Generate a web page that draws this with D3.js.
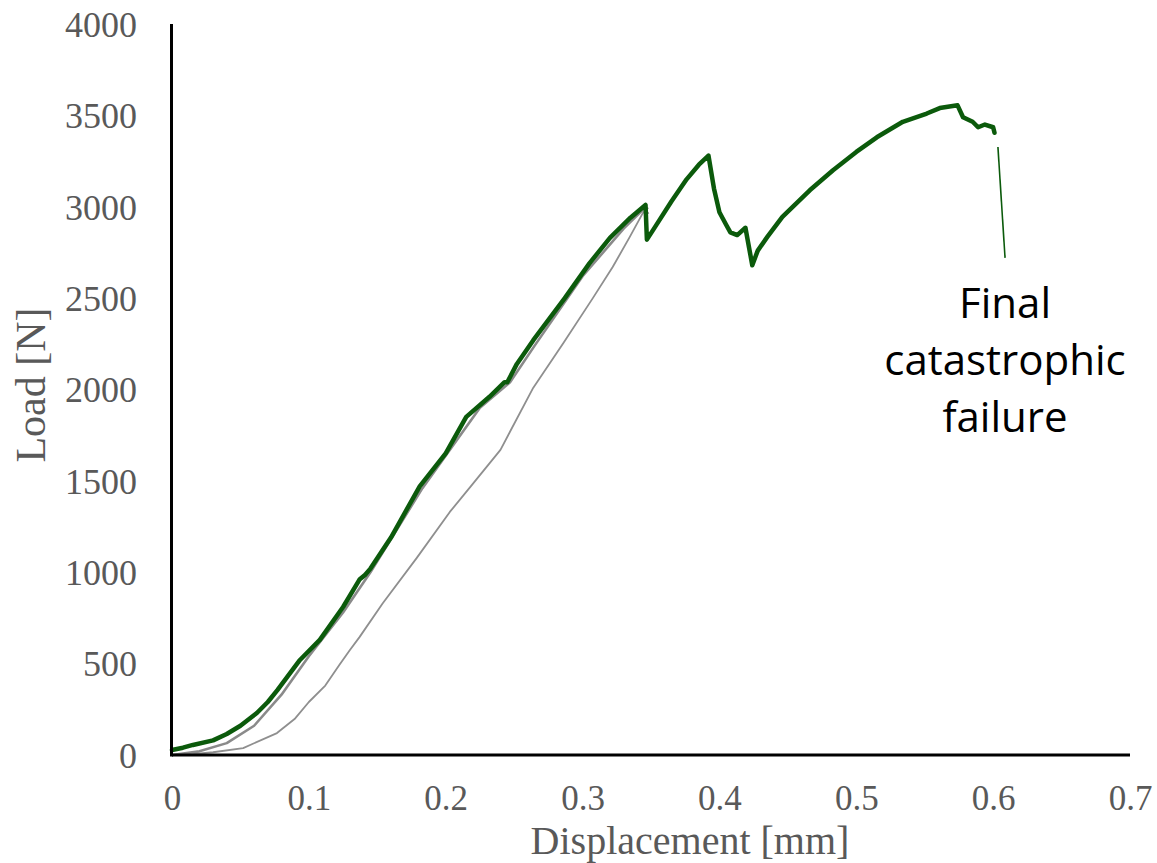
<!DOCTYPE html>
<html>
<head>
<meta charset="utf-8">
<script src="https://cdn.jsdelivr.net/npm/d3@7"></script>
<style>
  html, body { margin: 0; padding: 0; background: #fff; }
  svg { display: block; }
</style>
</head>
<body>
<svg id="chart" width="1157" height="863"></svg>
<script>
// Load–displacement curves: displacement [mm], load [N]
const mainDisp = [0,0.008,0.0153,0.03,0.04,0.05,0.062,0.07,0.077,0.0935,0.108,0.125,0.137,0.141,0.145,0.16,0.181,0.2,0.215,0.232,0.243,0.245,0.252,0.264,0.287,0.305,0.32,0.335,0.346,0.347,0.353,0.365,0.376,0.385,0.392,0.396,0.400,0.405,0.408,0.413,0.419,0.424,0.428,0.435,0.446,0.466,0.483,0.500,0.515,0.534,0.5515,0.561,0.574,0.578,0.585,0.589,0.594,0.600,0.601];
const mainLoad = [27,40,55,80,115,160,230,290,355,520,630,810,960,985,1020,1190,1470,1650,1850,1960,2040,2040,2140,2270,2500,2690,2830,2940,3010,2820,2890,3030,3150,3230,3280,3100,2970,2900,2860,2845,2885,2680,2760,2835,2945,3090,3200,3300,3380,3465,3510,3540,3555,3490,3465,3435,3450,3435,3405];

const nearDisp = [0,0.02,0.04,0.06,0.08,0.1,0.125,0.145,0.183,0.225,0.247,0.265,0.3,0.33,0.345,0.348];
const nearLoad = [0,20,65,160,330,540,780,1000,1460,1900,2040,2240,2620,2880,2990,2960];

const farDisp = [0,0.015,0.03,0.052,0.0767,0.09,0.1,0.112,0.122,0.13,0.137,0.154,0.179,0.203,0.218,0.24,0.264,0.286,0.3075,0.322,0.3345,0.344,0.348];
const farLoad = [0,5,15,38,120,200,290,380,490,575,645,830,1080,1330,1467,1670,2010,2255,2500,2670,2835,2965,2995];

// Leader line for the failure annotation
const leaderDisp = [0.6035, 0.6087];
const leaderLoad = [3327, 2720];
const noteLines = ["Final", "catastrophic", "failure"];

const xTicks = [0, 0.1, 0.2, 0.3, 0.4, 0.5, 0.6, 0.7];
const yTicks = [0, 500, 1000, 1500, 2000, 2500, 3000, 3500, 4000];

const svg = d3.select("#chart");
const x = d3.scaleLinear().domain([0, 0.7]).range([172, 1130]);
const y = d3.scaleLinear().domain([0, 4000]).range([755, 24]);

const zip = (a, b) => a.map((v, i) => [v, b[i]]);
const line = d3.line().x(d => x(d[0])).y(d => y(d[1]));

const serif = "'Liberation Serif', 'Times New Roman', serif";
const grey = "#595959";

// tick labels
const xAxis = d3.axisBottom(x).tickValues(xTicks).tickSize(0).tickPadding(0)
  .tickFormat(d => d === 0 ? "0" : d3.format(".1f")(d));
const gx = svg.append("g").attr("transform", "translate(0,755)").call(xAxis);
gx.select(".domain").remove();
gx.selectAll("text").attr("y", 55).attr("dy", 0)
  .attr("font-family", serif).attr("font-size", 35).attr("fill", grey);

const yAxis = d3.axisLeft(y).tickValues(yTicks).tickSize(0).tickPadding(0)
  .tickFormat(d3.format("d"));
const gy = svg.append("g").attr("transform", "translate(137,0)").call(yAxis);
gy.select(".domain").remove();
gy.selectAll("text").attr("x", 0).attr("dy", "0.34em")
  .attr("font-family", serif).attr("font-size", 36).attr("fill", grey);

// curves
svg.append("path").datum(zip(farDisp, farLoad)).attr("d", line)
  .attr("fill", "none").attr("stroke", "#8f8f8f").attr("stroke-width", 1.8)
  .attr("stroke-linejoin", "round");
svg.append("path").datum(zip(nearDisp, nearLoad)).attr("d", line)
  .attr("fill", "none").attr("stroke", "#8a8a8a").attr("stroke-width", 2.6)
  .attr("stroke-linejoin", "round");
svg.append("path").datum(zip(mainDisp, mainLoad)).attr("d", line)
  .attr("fill", "none").attr("stroke", "#0b5a0b").attr("stroke-width", 4.5)
  .attr("stroke-linejoin", "round").attr("stroke-linecap", "round");

// axis lines
svg.append("line").attr("x1", x(0)).attr("x2", x(0.7)).attr("y1", y(0)).attr("y2", y(0))
  .attr("stroke", "#000").attr("stroke-width", 3);
svg.append("line").attr("x1", x(0) - 0.5).attr("x2", x(0) - 0.5).attr("y1", y(4000)).attr("y2", y(0) + 1.5)
  .attr("stroke", "#000").attr("stroke-width", 3);

// annotation
svg.append("path").datum(zip(leaderDisp, leaderLoad)).attr("d", line)
  .attr("stroke", "#0b5a0b").attr("stroke-width", 1.6).attr("fill", "none");
svg.append("g").selectAll("text").data(noteLines).join("text")
  .attr("x", 1005).attr("y", (d, i) => 318 + i * 57)
  .attr("text-anchor", "middle")
  .attr("font-family", "'Open Sans', 'Noto Sans', sans-serif").attr("font-size", 42)
  .attr("fill", "#000").text(d => d);

// axis titles
svg.append("text").attr("x", 690).attr("y", 854).attr("text-anchor", "middle")
  .attr("font-family", serif).attr("font-size", 40).attr("fill", grey)
  .text("Displacement [mm]");
svg.append("text").attr("transform", "translate(45,385) rotate(-90)").attr("text-anchor", "middle")
  .attr("font-family", serif).attr("font-size", 42).attr("fill", grey)
  .text("Load [N]");
</script>
</body>
</html>
